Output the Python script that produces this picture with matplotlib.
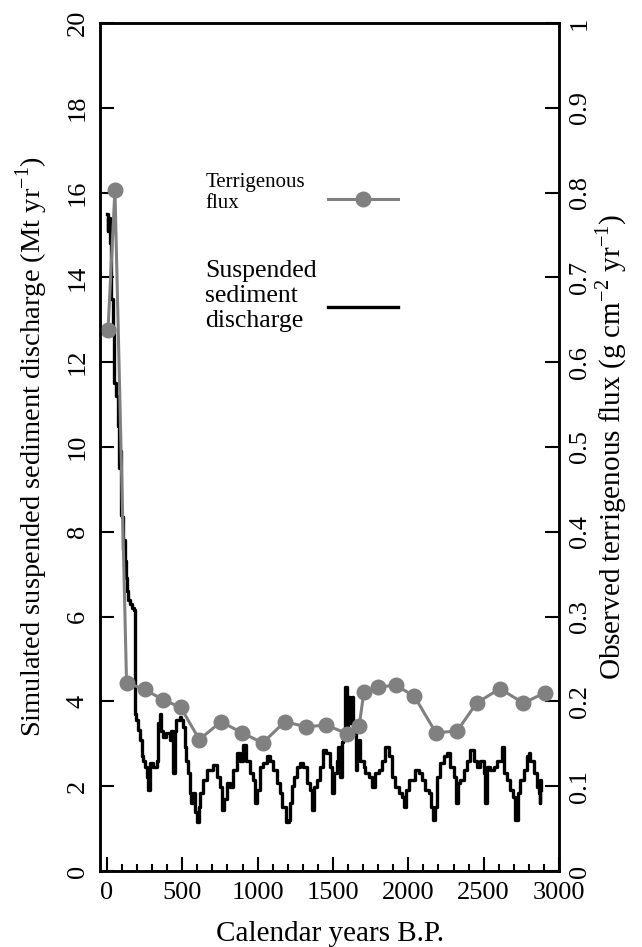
import matplotlib.pyplot as plt
from matplotlib.ticker import MultipleLocator, FormatStrFormatter
from matplotlib.lines import Line2D

plt.rcParams['font.family'] = ['Liberation Serif', 'DejaVu Serif']
plt.rcParams['mathtext.fontset'] = 'custom'
plt.rcParams['mathtext.rm'] = 'Liberation Serif'

# observed terrigenous flux (g cm-2 yr-1)
flux_years = [7, 53, 130, 252, 370, 489, 613, 757, 896, 1033, 1181, 1321, 1453,
              1595, 1674, 1705, 1800, 1918, 2040, 2183, 2324, 2453, 2608, 2763, 2906]
flux_vals = [0.638, 0.803, 0.222, 0.214, 0.202, 0.193, 0.155, 0.176, 0.163, 0.151,
             0.176, 0.170, 0.172, 0.162, 0.171, 0.211, 0.217, 0.219, 0.206, 0.163,
             0.165, 0.198, 0.215, 0.198, 0.210]

# simulated suspended sediment discharge (Mt yr-1)
sed_years = [0, 5, 10, 20, 30, 40, 50, 60, 70, 80, 86, 92, 98, 105, 112, 119, 125,
             131, 140, 153, 165, 180, 186, 196, 208, 219, 230, 241, 252, 263, 274,
             285, 307, 329, 340, 350, 361, 372, 394, 416, 427, 438, 449, 460, 482,
             494, 505, 516, 527, 538, 549, 560, 573, 585, 600, 610, 617, 640, 662,
             706, 728, 750, 765, 778, 794, 816, 838, 860, 882, 904, 926, 949, 971,
             985, 997, 1015, 1037, 1059, 1081, 1103, 1126, 1148, 1165, 1190, 1205,
             1215, 1225, 1240, 1258, 1280, 1302, 1325, 1347, 1362, 1375, 1391, 1413,
             1435, 1457, 1479, 1495, 1510, 1524, 1535, 1546, 1558, 1568, 1580, 1590,
             1601, 1612, 1623, 1634, 1650, 1660, 1671, 1682, 1704, 1715, 1737, 1760,
             1781, 1803, 1826, 1848, 1870, 1892, 1914, 1936, 1958, 1970, 1985, 2003,
             2047, 2069, 2091, 2113, 2135, 2150, 2165, 2180, 2190, 2212, 2234, 2256,
             2278, 2300, 2318, 2330, 2344, 2367, 2389, 2411, 2433, 2455, 2478, 2500,
             2512, 2525, 2544, 2566, 2588, 2621, 2632, 2654, 2676, 2698, 2710, 2730,
             2743, 2765, 2787, 2798, 2810, 2832, 2854, 2865, 2871, 2875, 2880]
sed_vals = [15.5, 15.1, 15.4, 14.8, 13.5, 12.8, 11.5, 11.2, 10.5, 9.5, 9.9, 8.4,
            8.35, 7.6, 7.8, 7.3, 6.9, 6.6, 6.4, 6.3, 6.2, 6.15, 3.7, 3.56, 3.33,
            3.1, 2.7, 2.6, 2.46, 2.22, 1.91, 2.55, 2.46, 2.6, 3.5, 3.7, 3.3, 3.17,
            3.25, 3.1, 3.3, 2.3, 3.3, 3.56, 3.64, 3.56, 3.4, 2.93, 2.6, 2.3, 1.84,
            1.6, 1.84, 1.4, 1.15, 1.5, 1.84, 2.15, 2.38, 2.5, 2.22, 1.99, 1.44, 1.7,
            2.07, 1.99, 2.38, 2.78, 2.6, 2.97, 2.6, 2.3, 2.15, 1.6, 1.9, 2.46, 2.54,
            2.7, 2.6, 2.38, 2.07, 1.84, 1.5, 1.15, 1.2, 1.6, 2.0, 2.22, 2.46, 2.54,
            2.46, 2.07, 1.91, 1.44, 1.99, 2.15, 2.46, 2.85, 2.78, 2.46, 1.85, 2.3,
            2.6, 2.93, 2.22, 3.05, 3.1, 4.35, 3.4, 4.1, 3.5, 4.1, 3.4, 2.38, 2.93,
            3.1, 2.6, 2.46, 2.3, 2.22, 1.99, 2.3, 2.38, 2.6, 2.93, 2.7, 2.22, 1.99,
            1.84, 1.75, 1.5, 1.91, 2.15, 2.38, 2.3, 2.15, 1.91, 1.84, 1.5, 1.2, 1.5,
            2.22, 2.54, 2.7, 2.78, 2.46, 2.22, 1.6, 2.07, 2.15, 2.38, 2.6, 2.85,
            2.6, 2.46, 2.6, 2.3, 1.6, 2.46, 2.38, 2.46, 2.6, 2.93, 2.3, 2.15, 1.91,
            1.75, 1.2, 1.84, 2.15, 2.38, 2.7, 2.78, 2.6, 2.3, 1.99, 1.84, 1.6, 2.15,
            1.91]

fig = plt.figure(figsize=(6.42, 9.47), dpi=100)
ax = fig.add_axes([0.1558, 0.0803, 0.7149, 0.8954])
ax2 = ax.twinx()

ax.step(sed_years, sed_vals, where='post', color='black', lw=2.4, zorder=3)
ax2.plot(flux_years, flux_vals, color='#808080', lw=2.2, marker='o', ms=10.5,
         zorder=2)

ax.set_xlim(-46, 3000)
ax.set_ylim(0, 20)
ax2.set_ylim(0, 1)

ax.xaxis.set_major_locator(MultipleLocator(500))
ax.xaxis.set_minor_locator(MultipleLocator(100))
ax.yaxis.set_major_locator(MultipleLocator(2))
ax2.yaxis.set_major_locator(MultipleLocator(0.1))
ax2.yaxis.set_major_formatter(FormatStrFormatter('%g'))

ax.tick_params(axis='x', which='major', direction='in', length=10, width=1.5,
               labelsize=19, pad=8)
ax.tick_params(axis='x', which='minor', direction='in', length=5, width=1.5)
ax.tick_params(axis='y', direction='in', length=10, width=1.5, labelsize=19,
               labelrotation=90, pad=8)
ax2.tick_params(axis='y', direction='in', length=10, width=1.5, labelsize=19,
                labelrotation=90, pad=7)
for lbl in ax.get_yticklabels() + ax2.get_yticklabels():
    lbl.set_va('center')

for a in (ax, ax2):
    for s in a.spines.values():
        s.set_linewidth(1.8)

ax.set_xlabel('Calendar years B.P.', fontsize=21, labelpad=12)
ax.set_ylabel('Simulated suspended sediment discharge (Mt yr$^{-1}$)',
              fontsize=20.5, labelpad=12)
ax2.set_ylabel('Observed terrigenous flux (g cm$^{-2}$ yr$^{-1}$)',
               fontsize=21, labelpad=2)

# hand-placed legend
ax.text(0.229, 0.823, 'Terrigenous\nflux', transform=ax.transAxes,
        fontsize=15, va='top', ha='left', linespacing=1.15)
ax.add_line(Line2D([0.497, 0.649], [0.792, 0.792], transform=ax.transAxes,
                   color='#808080', lw=2.2))
ax.add_line(Line2D([0.573], [0.792], transform=ax.transAxes, color='#808080',
                   marker='o', ms=10.5))
ax.text(0.229, 0.72, 'Suspended\nsediment\ndischarge', transform=ax.transAxes,
        fontsize=18.5, va='top', ha='left', linespacing=1.15)
ax.add_line(Line2D([0.497, 0.649], [0.665, 0.665], transform=ax.transAxes,
                   color='black', lw=2.4))

fig.savefig('out.png', dpi=100)
